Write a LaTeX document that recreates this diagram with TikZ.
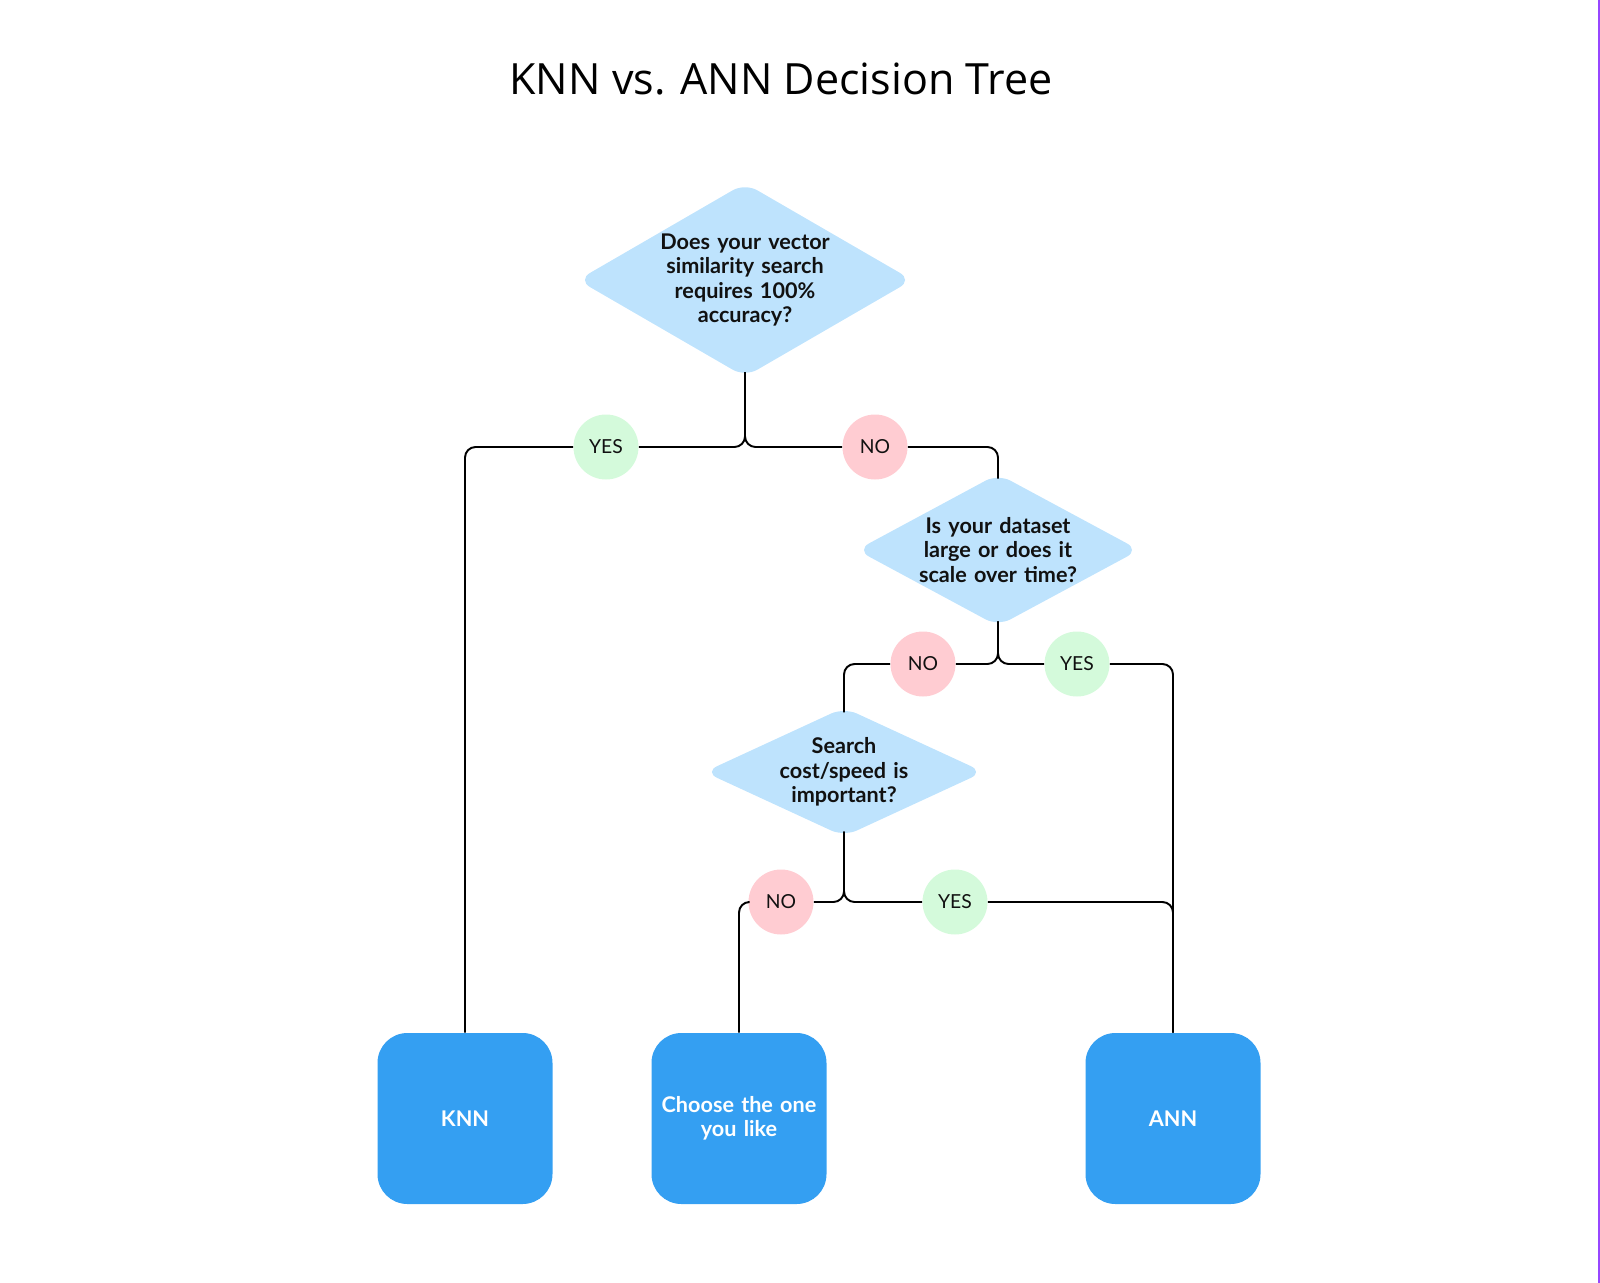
\documentclass[tikz,border=0pt]{standalone}
\usepackage{fontspec}
\setmainfont{Lato}
\newfontfamily\titlefont{Open Sans}
\usetikzlibrary{shapes.geometric}
\definecolor{qblue}{HTML}{BEE3FD}
\definecolor{boxblue}{HTML}{349FF2}
\definecolor{yesgreen}{HTML}{D4FADB}
\definecolor{nopink}{HTML}{FFCCD2}
\definecolor{framepurple}{HTML}{9747FF}
\definecolor{ink}{HTML}{111111}
\tikzstyle{decision} = [diamond, rounded corners=8pt, fill=qblue, text=ink, align=center, inner sep=0pt, font=\fontsize{12.3}{13.9}\selectfont\bfseries]
\tikzstyle{result} = [rectangle, rounded corners=17pt, fill=boxblue, text=white, minimum width=3.5cm, minimum height=3.42cm, text width=3.3cm, align=center, inner sep=0pt, font=\fontsize{12.3}{13.9}\selectfont\bfseries]
\tikzstyle{yeslabel} = [circle, fill=yesgreen, minimum size=1.3cm, inner sep=0pt, text=ink, font=\fontsize{11}{13}\selectfont]
\tikzstyle{nolabel} = [circle, fill=nopink, minimum size=1.3cm, inner sep=0pt, text=ink, font=\fontsize{11}{13}\selectfont]
\tikzstyle{connector} = [line width=1.1pt, black, rounded corners=6pt]

\begin{document}
\begin{tikzpicture}[node distance=2cm]
  \useasboundingbox (0,0) rectangle (32,-25.66);
  \fill [framepurple] (31.95,0) rectangle (32,-25.66);

  \node (q1) [decision, aspect=1.726, text width=3.5cm] at (14.9,-5.6) {Does your vector\\similarity search\\requires 100\%\\accuracy?};
  \node (title) [above of=q1, xshift=0.72cm, yshift=2.02cm, font=\titlefont\fontsize{24.5}{30}\selectfont] {KNN vs. ANN Decision Tree};

  \node (yes1) [yeslabel, below of=q1, xshift=-2.78cm, yshift=-1.34cm] {YES};
  \node (no1) [nolabel, below of=q1, xshift=2.6cm, yshift=-1.34cm] {NO};

  \node (q2) [decision, aspect=1.856, text width=3.3cm, inner sep=-0.3pt, below of=q1, xshift=5.06cm, yshift=-3.4cm] {Is your dataset\\large or does it\\scale over time?};
  \node (no2) [nolabel, below of=q2, xshift=-1.5cm, yshift=-0.28cm] {NO};
  \node (yes2) [yeslabel, below of=q2, xshift=1.58cm, yshift=-0.28cm] {YES};

  \node (q3) [decision, aspect=2.164, text width=2.8cm, inner sep=-0.8pt, below of=q2, xshift=-3.08cm, yshift=-2.44cm] {Search\\cost/speed is\\important?};
  \node (no3) [nolabel, below of=q3, xshift=-1.26cm, yshift=-0.6cm] {NO};
  \node (yes3) [yeslabel, below of=q3, xshift=2.22cm, yshift=-0.6cm] {YES};

  \node (knn) [result, below of=q3, xshift=-7.58cm, yshift=-4.93cm] {KNN};
  \node (choose) [result, right of=knn, xshift=3.48cm] {Choose the one\\you like};
  \node (ann) [result, right of=choose, xshift=6.68cm] {ANN};

  \draw [connector] ([yshift=3pt]q1.south) |- (yes1);
  \draw [connector] ([yshift=3pt]q1.south) |- (no1);
  \draw [connector] (yes1) -| (knn);
  \draw [connector] (no1) -| ([yshift=-3pt]q2.north);

  \draw [connector] ([yshift=3pt]q2.south) |- (no2);
  \draw [connector] ([yshift=3pt]q2.south) |- (yes2);
  \draw [connector] (no2) -| ([yshift=-3pt]q3.north);
  \draw [connector] (yes2) -| (ann);

  \draw [connector] ([yshift=3pt]q3.south) |- (no3);
  \draw [connector] ([yshift=3pt]q3.south) |- (yes3);
  \draw [connector] (no3) -| (choose);
  \draw [connector] (yes3) -| (ann);
\end{tikzpicture}
\end{document}
